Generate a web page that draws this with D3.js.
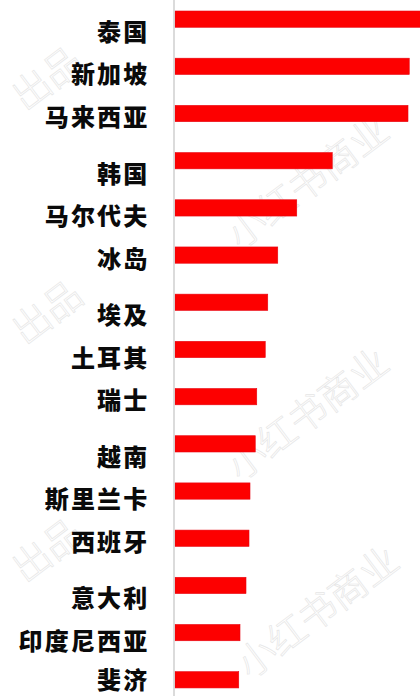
<!DOCTYPE html>
<html>
<head>
<meta charset="utf-8">
<script src="https://cdn.jsdelivr.net/npm/d3@7"></script>
<style>
  html, body { margin: 0; padding: 0; background: #fff; overflow: hidden; }
  svg { display: block; }
</style>
</head>
<body>
<div id="chart"></div>
<script>
// Destinations, ranked by relative popularity index (top = 100)
const countries = ["泰国", "新加坡", "马来西亚", "韩国", "马尔代夫", "冰岛", "埃及", "土耳其", "瑞士", "越南", "斯里兰卡", "西班牙", "意大利", "印度尼西亚", "斐济"];
const values = [100, 93.7, 93.2, 62.9, 48.7, 41.1, 37.1, 36.1, 32.7, 32.1, 30.0, 29.6, 28.4, 26.0, 25.5];

// Background watermark text
const watermarkMain = "小红书商业";
const watermarkTail = "出品";

const W = 420, H = 696;
const axisX = 174;
const labelSize = 24;

const svg = d3.select("#chart").append("svg")
  .attr("width", W)
  .attr("height", H)
  .attr("viewBox", `0 0 ${W} ${H}`);

svg.append("rect").attr("width", W).attr("height", H).attr("fill", "#fff");

// faint diagonal watermark
const wm = svg.append("g")
  .attr("fill", "none")
  .attr("stroke", "#e6e6e6")
  .attr("stroke-width", 0.7)
  .style("font-family", "'Noto Sans CJK SC', sans-serif")
  .style("font-weight", 300);

[[240, 250], [240, 482], [250, 680]].forEach(([x, y]) => {
  wm.append("text")
    .attr("transform", `translate(${x},${y}) rotate(-37)`)
    .style("font-size", "38px")
    .text(watermarkMain);
});
[[25, 112], [25, 346], [25, 584]].forEach(([x, y]) => {
  wm.append("text")
    .attr("transform", `translate(${x},${y}) rotate(-37)`)
    .style("font-size", "38px")
    .text(watermarkTail);
});

// scales
const x = d3.scaleLinear().domain([0, 100]).range([axisX + 1, 425]);

const y = d3.scaleBand()
  .domain(countries)
  .range([-4.45, 703.4])
  .paddingInner(0.655)
  .paddingOuter(0.3275);

// labels are set in rows of three, slightly tighter than the bars,
// and kept clear of the bottom edge
const labelStep = y.step() * 0.9;
const labelY = (d, i) => {
  const lead = countries[i - (i % 3)];
  const cy = y(lead) + y.bandwidth() / 2 + 13 + (i % 3) * labelStep;
  return Math.min(cy, H - labelSize * 0.67);
};

// bars
svg.append("g")
  .selectAll("rect")
  .data(countries.map((c, i) => ({ c, v: values[i] })))
  .join("rect")
  .attr("x", x(0))
  .attr("y", d => y(d.c))
  .attr("width", d => x(d.v) - x(0))
  .attr("height", y.bandwidth())
  .attr("fill", "#fd0000")
  .attr("stroke", "#e80612")
  .attr("stroke-width", 0.6);

// vertical axis line
const axis = svg.append("g")
  .attr("transform", `translate(${axisX},0)`)
  .call(d3.axisLeft(y).tickSize(0).tickFormat(""));
axis.select(".domain")
  .attr("d", `M0,0V${H}`)
  .attr("stroke", "#d2d2d2")
  .attr("stroke-width", 1.6);

// labels
svg.append("g")
  .selectAll("text")
  .data(countries)
  .join("text")
  .attr("x", 149.5)
  .attr("y", labelY)
  .attr("dy", "0.37em")
  .attr("text-anchor", "end")
  .attr("fill", "#0a0a0a")
  .style("font-family", "'Noto Sans CJK SC', sans-serif")
  .style("font-size", `${labelSize}px`)
  .style("font-weight", 900)
  .style("letter-spacing", "2.2px")
  .text(d => d);
</script>
</body>
</html>
